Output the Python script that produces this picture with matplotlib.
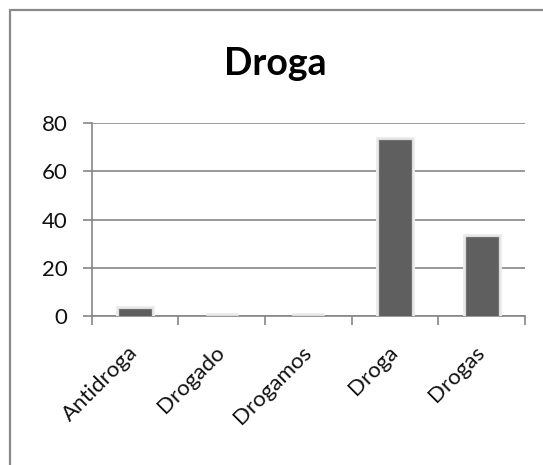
import matplotlib
matplotlib.use("Agg")
import matplotlib.pyplot as plt
from matplotlib.patches import Rectangle
import matplotlib.patheffects as pe

categories = ["Antidroga", "Drogado", "Drogamos", "Droga", "Drogas"]
values = [3, 0, 0, 73, 33]
yticks = [0, 20, 40, 60, 80]

plt.rcParams['font.family'] = ['Lato', 'DejaVu Sans']

fig = plt.figure(figsize=(5.43, 4.65), dpi=100)
ax = fig.add_axes([0.1689, 0.3204, 0.798, 0.4144])

# chart border (only left and top visible)
fig.patches.append(Rectangle((10 / 543, -0.1), 1.2, 1 - 10 / 465 + 0.1,
                             transform=fig.transFigure, fill=False,
                             edgecolor="#8a8a8a", linewidth=1.6))

x = range(len(categories))
bars = ax.bar(x, values, width=0.37, color="#5f5f5f", zorder=3,
              edgecolor="#5f5f5f", linewidth=0.5)
for b in bars:
    b.set_path_effects([pe.Stroke(linewidth=5, foreground="#ededed"),
                        pe.Stroke(linewidth=2.5, foreground="#dcdcdc"), pe.Normal()])

ax.set_xlim(-0.5, len(categories) - 0.5)
ax.set_ylim(0, 80)
ax.set_yticks(yticks)
ax.yaxis.grid(True, color="#868686", linewidth=1.2, zorder=0)
ax.set_axisbelow(True)

for s in ["top", "right"]:
    ax.spines[s].set_visible(False)
ax.spines["left"].set_color("#868686")
ax.spines["bottom"].set_color("#868686")
ax.spines["left"].set_linewidth(1.2)
ax.spines["bottom"].set_linewidth(1.2)

ax.set_xticks([i - 0.5 for i in range(len(categories) + 1)], minor=True)
ax.set_xticks(list(x))
ax.set_xticklabels(categories, rotation=45, ha="right", va="center",
                   rotation_mode="anchor", fontsize=16, color="#111111")
ax.tick_params(axis="x", which="major", length=0, pad=24)
ax.tick_params(axis="x", which="minor", length=6.5, color="#868686", width=1.2)
ax.tick_params(axis="y", length=6.5, color="#868686", width=1.2, labelsize=16,
               pad=11, labelcolor="#111111")

fig.text(0.5064, (465 - 75) / 465, "Droga", ha="center", va="baseline",
         fontsize=27, fontweight="bold")

fig.savefig("out.png", dpi=100)
